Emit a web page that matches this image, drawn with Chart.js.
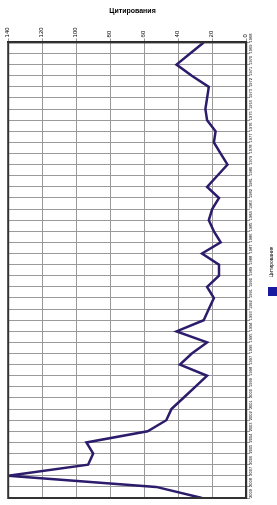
<!DOCTYPE html>
<html>
<head>
<meta charset="utf-8">
<script src="https://cdn.jsdelivr.net/npm/chart.js@4.4.1/dist/chart.umd.min.js"></script>
<style>
  html, body { margin: 0; padding: 0; background: #fff; }
  #wrap { width: 277px; height: 505px; }
</style>
</head>
<body>
<div id="wrap"><canvas id="citChart" width="277" height="505"></canvas></div>
<script>
// categories (unreadable in the scan, read as years)
const years = [];
for (let y = 1968; y <= 2009; y++) years.push(String(y));

// citations per category, top to bottom
const citations = [25, 33, 41, 32, 22, 23, 24, 23, 18, 19,
                   15, 11, 17, 23, 16, 20, 22, 19, 15, 26,
                   16, 16, 23, 19, 22, 25, 41, 23, 32, 39,
                   23, 30, 37, 44, 47, 58, 94, 90, 93, 140,
                   53, 26];

const valueTicks = [0, 20, 40, 60, 80, 100, 120, 140];

// frame round the plot area + vertical legend on the right
const framePlugin = {
    id: 'frame',
    afterDraw(chart) {
        const ctx = chart.ctx;
        const a = chart.chartArea;
        ctx.save();
        ctx.strokeStyle = '#333';
        ctx.lineWidth = 2;
        ctx.strokeRect(a.left, a.top, a.right - a.left, a.bottom - a.top);

        // legend
        ctx.fillStyle = '#000';
        ctx.font = '5px "Liberation Sans", Arial, sans-serif';
        ctx.translate(272, 262);
        ctx.rotate(-Math.PI / 2);
        ctx.textAlign = 'center';
        ctx.textBaseline = 'middle';
        ctx.fillText('Цитирования', 0, 0);
        ctx.restore();
        ctx.save();
        ctx.fillStyle = '#1a1aa0';
        ctx.fillRect(268, 287, 9, 9);
        ctx.restore();
    }
};

const ctx = document.getElementById('citChart').getContext('2d');
new Chart(ctx, {
    type: 'line',
    data: {
        labels: years,
        datasets: [{
            label: 'Цитирования',
            data: citations,
            borderColor: '#2d1b6b',
            backgroundColor: '#1a1aa0',
            borderWidth: 2.5,
            pointRadius: 0,
            tension: 0,
            fill: false
        }]
    },
    options: {
        indexAxis: 'y',
        responsive: false,
        animation: false,
        layout: { padding: { left: 8, right: 20, top: 0, bottom: 7 } },
        plugins: {
            legend: { display: false },
            title: {
                display: true,
                text: 'Цитирования',
                color: '#000',
                font: { family: '"Liberation Sans", Arial, sans-serif', size: 7, weight: 'bold' },
                padding: { top: 7, bottom: 11 }
            },
            tooltip: { enabled: false }
        },
        scales: {
            x: {
                position: 'top',
                reverse: true,
                min: valueTicks[0],
                max: valueTicks[valueTicks.length - 1],
                ticks: {
                    stepSize: 20,
                    minRotation: 90,
                    maxRotation: 90,
                    labelOffset: 6,
                    color: '#000',
                    padding: 1,
                    font: { family: '"Liberation Sans", Arial, sans-serif', size: 6 }
                },
                grid: { color: '#9a9a9a', lineWidth: 1, tickLength: 4 },
                border: { color: '#222', width: 2 }
            },
            y: {
                position: 'right',
                offset: false,
                ticks: {
                    autoSkip: false,
                    minRotation: 90,
                    maxRotation: 90,
                    color: '#000',
                    padding: 1,
                    font: { family: '"Liberation Sans", Arial, sans-serif', size: 4 }
                },
                grid: { color: '#9a9a9a', lineWidth: 1, tickLength: 4 },
                border: { color: '#222', width: 2 }
            }
        }
    },
    plugins: [framePlugin]
});
</script>
</body>
</html>
